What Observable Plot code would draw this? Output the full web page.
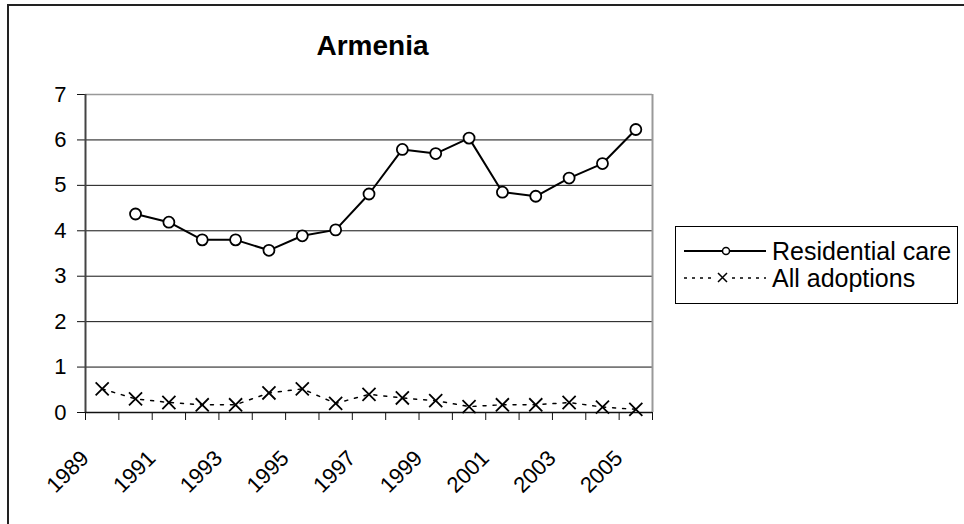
<!DOCTYPE html>
<html><head><meta charset="utf-8">
<script src="https://cdn.jsdelivr.net/npm/d3@7"></script>
<script src="https://cdn.jsdelivr.net/npm/@observablehq/plot@0.6"></script>
<style>
body{margin:0;background:#fff;font-family:"Liberation Sans",Arial,sans-serif;}
#wrap{position:relative;width:964px;height:524px;overflow:hidden;background:#fff}
#border{position:absolute;left:7px;top:4px;width:1000px;height:600px;border:2px solid #222;box-sizing:border-box}
#title{position:absolute;left:89px;width:567px;top:32px;line-height:28px;text-align:center;font-weight:bold;font-size:28px;color:#000}
#chart{position:absolute;left:0;top:0}
#legend{position:absolute;left:675px;top:226px;width:283px;height:78px;border:1.5px solid #000;box-sizing:border-box;background:#fff}
.row{position:absolute;left:0;height:26px;display:flex;align-items:center}
.row svg{width:96px;height:26px;display:block}
.row span{font-size:25px;line-height:26px;color:#000;margin-left:0px;white-space:nowrap}
</style></head>
<body>
<div id="wrap">
  <div id="border"></div>
  <div id="chart"></div>
  <div id="title"></div>
  <div id="legend"></div>
</div>
<script>
const title = "Armenia";
const years = [1989,1990,1991,1992,1993,1994,1995,1996,1997,1998,1999,2000,2001,2002,2003,2004,2005];
const residentialCare = [null,4.37,4.19,3.80,3.80,3.57,3.89,4.02,4.81,5.79,5.70,6.04,4.85,4.76,5.16,5.48,6.23];
const allAdoptions = [0.52,0.30,0.22,0.17,0.17,0.43,0.52,0.20,0.40,0.32,0.26,0.13,0.17,0.17,0.22,0.12,0.07];
const seriesNames = ["Residential care","All adoptions"];
const yTicks = [0,1,2,3,4,5,6,7];
const xTickLabels = [1989,1991,1993,1995,1997,1999,2001,2003,2005];

const resData = years.map((y,i)=>({year:y, value:residentialCare[i]})).filter(d=>d.value!=null);
const adoptData = years.map((y,i)=>({year:y, value:allAdoptions[i]}));
const xBounds = years.map(y=>y-0.5).concat([years[years.length-1]+0.5]);

document.getElementById("title").textContent = title;

const chart = Plot.plot({
  width:964, height:524,
  marginTop:94, marginLeft:85, marginRight:312, marginBottom:112,
  style:{fontFamily:"Liberation Sans, Arial, sans-serif", fontSize:"22px", color:"#000", background:"transparent", overflow:"visible"},
  x:{domain:[xBounds[0], xBounds[xBounds.length-1]]},
  y:{domain:[0,7]},
  marks:[
    Plot.ruleY(yTicks.slice(1,-1), {stroke:"#111", strokeWidth:1}),
    Plot.ruleY([7], {stroke:"#999", strokeWidth:1.5}),
    Plot.ruleX([xBounds[xBounds.length-1]], {stroke:"#999", strokeWidth:2}),
    Plot.axisY({ticks:yTicks, tickSize:8, tickPadding:11, fontSize:22, tickFormat:d=>String(d), stroke:"#111", strokeOpacity:1, label:null}),
    Plot.axisX({ticks:xBounds, tickSize:8, tickFormat:()=>"", stroke:"#111", strokeOpacity:1, label:null}),
    Plot.axisX({ticks:xTickLabels, tickSize:0, tickRotate:-45, tickPadding:42, dx:-17, fontSize:22, tickFormat:d=>String(d), label:null}),
    Plot.ruleX([xBounds[0]], {stroke:"#444", strokeWidth:2}),
    Plot.ruleY([0], {stroke:"#111", strokeWidth:1.5}),
    Plot.line(adoptData, {x:"year", y:"value", stroke:"#000", strokeWidth:1.5, strokeDasharray:"3,7"}),
    Plot.dot(adoptData, {x:"year", y:"value", symbol:"times", r:6, stroke:"#000", strokeWidth:1.8}),
    Plot.line(resData, {x:"year", y:"value", stroke:"#000", strokeWidth:2}),
    Plot.dot(resData, {x:"year", y:"value", r:5.5, fill:"#fff", stroke:"#000", strokeWidth:1.8})
  ]
});
document.getElementById("chart").appendChild(chart);

// legend
const legend = document.getElementById("legend");
const ns = "http://www.w3.org/2000/svg";
seriesNames.forEach((name,i)=>{
  const row = document.createElement("div");
  row.className = "row";
  row.style.top = (11 + i*27) + "px";
  const svg = document.createElementNS(ns,"svg");
  const ln = document.createElementNS(ns,"line");
  ln.setAttribute("x1",8); ln.setAttribute("x2",90); ln.setAttribute("y1",13); ln.setAttribute("y2",13);
  ln.setAttribute("stroke","#000"); ln.setAttribute("stroke-width", i===0?2:1.5);
  if(i===1) ln.setAttribute("stroke-dasharray","3,5");
  svg.appendChild(ln);
  if(i===0){
    const c = document.createElementNS(ns,"circle");
    c.setAttribute("cx",50); c.setAttribute("cy",13); c.setAttribute("r",3.5);
    c.setAttribute("fill","#fff"); c.setAttribute("stroke","#000"); c.setAttribute("stroke-width",1.5);
    svg.appendChild(c);
  } else {
    const p = document.createElementNS(ns,"path");
    p.setAttribute("d","M42,8L51,17M42,17L51,8");
    p.setAttribute("stroke","#000"); p.setAttribute("stroke-width",1.5);
    const bg = document.createElementNS(ns,"rect");
    bg.setAttribute("x",39); bg.setAttribute("y",4); bg.setAttribute("width",15); bg.setAttribute("height",18); bg.setAttribute("fill","#fff");
    svg.appendChild(bg);
    svg.appendChild(p);
  }
  const sp = document.createElement("span");
  sp.textContent = name;
  row.appendChild(svg); row.appendChild(sp);
  legend.appendChild(row);
});
</script>
</body></html>
